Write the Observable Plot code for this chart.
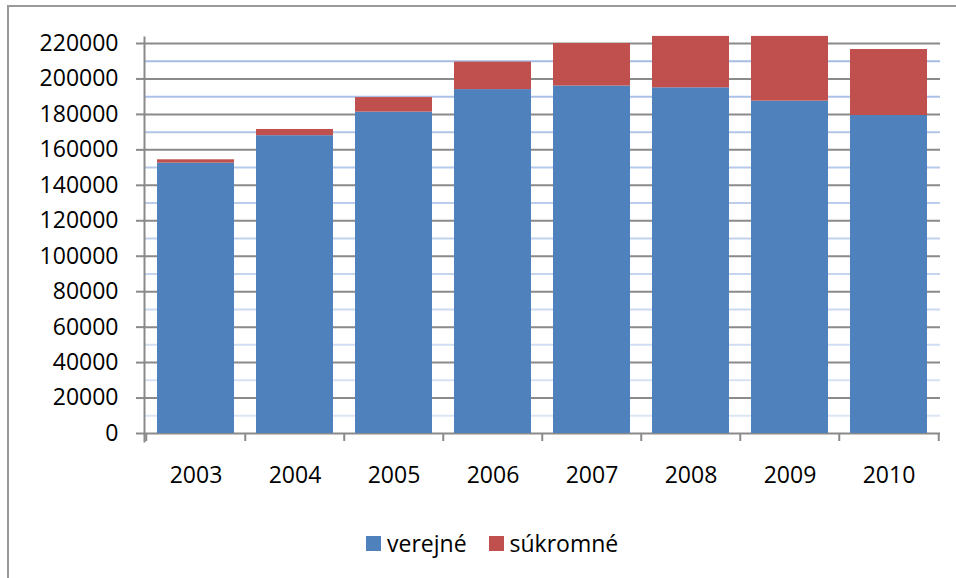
<!DOCTYPE html>
<html>
<head>
<meta charset="utf-8">
<script src="https://cdn.jsdelivr.net/npm/d3@7"></script>
<script src="https://cdn.jsdelivr.net/npm/@observablehq/plot@0.6"></script>
<style>
  body { margin: 0; background: #fff; font-family: "Open Sans", sans-serif; }
  #wrap { position: relative; width: 956px; height: 578px; overflow: hidden; }
  #border { position: absolute; left: 7px; top: 5px; width: 1000px; height: 700px; border: 2px solid #999; box-sizing: border-box; }
  #chart { position: absolute; left: 0; top: 0; }
  #legend { position: absolute; left: 366px; top: 527px; display: flex; align-items: center; font-size: 23px; color: #000; }
  .item { display: flex; align-items: center; margin-right: 22px; }
  .sw { width: 15px; height: 15px; margin-right: 6px; }
</style>
</head>
<body>
<div id="wrap">
  <div id="border"></div>
  <div id="chart"></div>
  <div id="legend"></div>
</div>
<script>
const years = ["2003","2004","2005","2006","2007","2008","2009","2010"];
const series = ["verejné","súkromné"];
const verejne = [152500,168000,181300,194000,196000,195000,187500,179400];
const sukromne = [1900,3500,8200,15500,24000,29000,36500,37200];
const colors = ["#4f81bd","#c0504d"];
const yTicks = [0,20000,40000,60000,80000,100000,120000,140000,160000,180000,200000,220000];
const yMinor = [10000,30000,50000,70000,90000,110000,130000,150000,170000,190000,210000];

const data = [];
years.forEach((y, i) => {
  data.push({year: y, series: series[0], value: verejne[i]});
  data.push({year: y, series: series[1], value: sukromne[i]});
});

const W = 956, H = 500, ML = 144, MR = 16, MT = 43, MB = 67;
const padIn = 0.22, padOut = 0.11;
const step = (W - ML - MR) / (years.length - padIn + 2 * padOut);
const gray = "#8a8a8a";
const minorColor = d3.interpolateRgb("#dfe7f5", "#a3bbe4");

const chart = Plot.plot({
  width: W, height: H,
  marginLeft: ML, marginRight: MR, marginTop: MT, marginBottom: MB,
  style: {fontFamily: "Open Sans", fontSize: "23px", color: "#000", background: "transparent", overflow: "visible"},
  x: {domain: years, paddingInner: padIn, paddingOuter: padOut, label: null},
  y: {domain: [0, 220000], label: null},
  color: {domain: series, range: colors},
  marks: [
    Plot.ruleY(yMinor, {stroke: d => minorColor(d / 220000), strokeWidth: 2}),
    Plot.ruleY(yTicks, {stroke: gray, strokeWidth: 2}),
    Plot.barY(data, Plot.stackY({x: "year", y: "value", fill: "series", order: series})),
    Plot.frame({anchor: "left", stroke: gray, strokeWidth: 2, insetTop: -6, insetBottom: -8}),
    Plot.axisY(yTicks, {tickSize: 8, tickPadding: 18, stroke: gray, strokeWidth: 2, tickFormat: d => String(d), fontSize: 23, label: null}),
    Plot.axisX({tickSize: 8, text: null, dx: -step / 2, stroke: gray, strokeWidth: 2, label: null}),
    Plot.axisX([years[years.length - 1]], {tickSize: 8, text: null, dx: step / 2, stroke: gray, strokeWidth: 2, label: null}),
    Plot.axisX({tickSize: 0, tickPadding: 33, fontSize: 23, label: null})
  ]
});
document.getElementById("chart").appendChild(chart);

const legend = document.getElementById("legend");
series.forEach((s, i) => {
  const it = document.createElement("div");
  it.className = "item";
  const sw = document.createElement("div");
  sw.className = "sw";
  sw.style.background = colors[i];
  const t = document.createElement("span");
  t.textContent = s;
  it.appendChild(sw); it.appendChild(t);
  legend.appendChild(it);
});
</script>
</body>
</html>
